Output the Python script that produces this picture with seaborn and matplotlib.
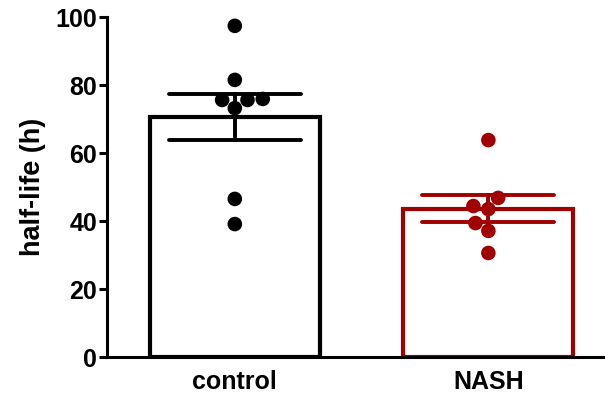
import matplotlib
matplotlib.use("Agg")
import matplotlib.pyplot as plt
import seaborn as sns
import pandas as pd

# Half-life measurements per animal
groups = ["control", "NASH"]
control_values = [97.4, 81.5, 75.6, 73.2, 75.6, 75.9, 46.5, 39.1]
nash_values = [63.8, 46.8, 43.5, 44.4, 39.4, 37.1, 30.6]
colors = {"control": "#000000", "NASH": "#A00000"}
y_ticks = [0, 20, 40, 60, 80, 100]

df = pd.DataFrame({
    "group": ["control"] * len(control_values) + ["NASH"] * len(nash_values),
    "half_life": control_values + nash_values,
})

sns.set_style("white")
plt.rcParams["font.family"] = ["Liberation Sans", "DejaVu Sans"]
plt.rcParams["font.weight"] = "bold"
plt.rcParams["text.color"] = "black"
plt.rcParams["axes.labelcolor"] = "black"
plt.rcParams["xtick.color"] = "black"
plt.rcParams["ytick.color"] = "black"

fig = plt.figure(figsize=(6.05, 4.01), dpi=100)
ax = fig.add_axes([0.1769, 0.1097, 0.8231, 0.8479])

sns.barplot(
    data=df, x="group", y="half_life", hue="group", order=groups,
    palette=colors, fill=False, errorbar="se", capsize=0.52,
    width=0.67, linewidth=3.0, err_kws={"linewidth": 2.8},
    legend=False, ax=ax,
)
sns.swarmplot(
    data=df, x="group", y="half_life", hue="group", order=groups,
    palette=colors, size=10.5, legend=False, ax=ax, zorder=5,
)

ax.set_xlim(-0.504, 1.46)
ax.set_ylim(0, 100)
ax.set_yticks(y_ticks)
ax.set_xlabel("")
ax.set_ylabel("half-life (h)", fontsize=19.5, fontweight="bold", labelpad=7)
for s in ["top", "right"]:
    ax.spines[s].set_visible(False)
for s in ["left", "bottom"]:
    ax.spines[s].set_linewidth(2.2)
    ax.spines[s].set_color("black")
ax.tick_params(axis="y", direction="out", length=6, width=2.2, labelsize=18, pad=1, left=True)
ax.tick_params(axis="x", length=0, labelsize=18, pad=9)
for lbl in ax.get_xticklabels() + ax.get_yticklabels():
    lbl.set_fontweight("bold")

fig.savefig("out.png", dpi=100)
